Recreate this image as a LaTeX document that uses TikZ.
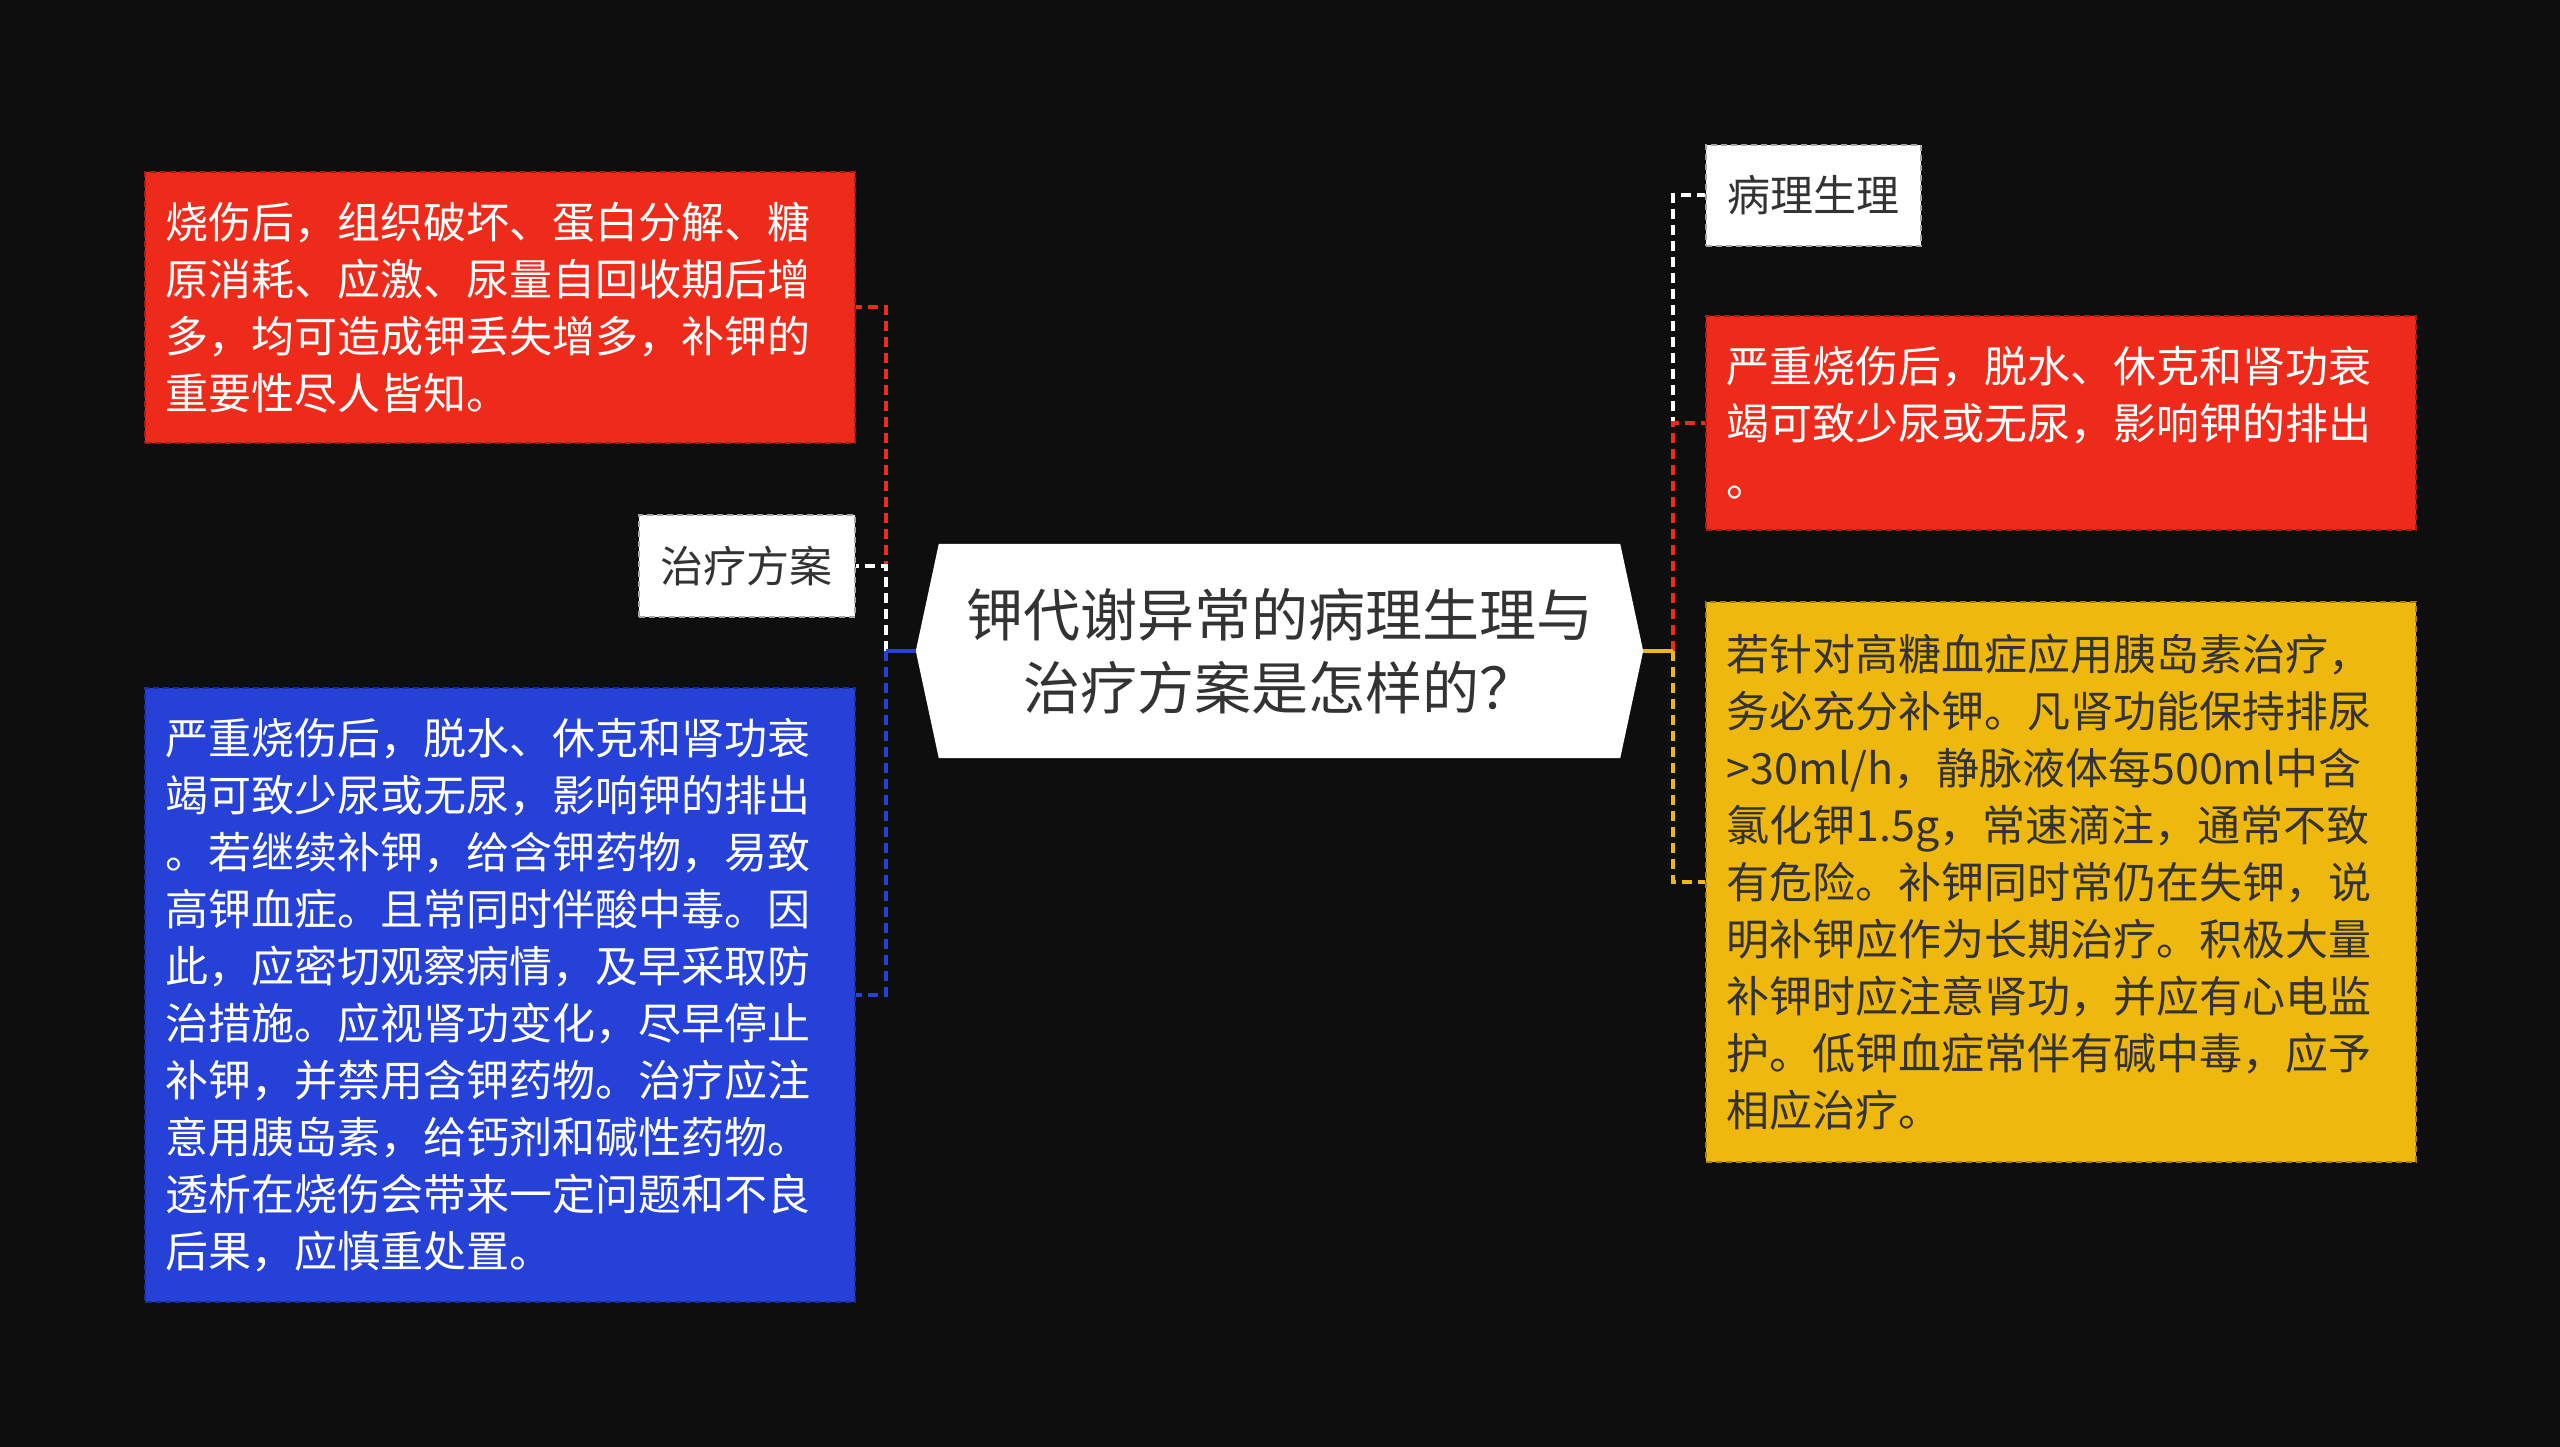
\documentclass[tikz,border=0pt]{standalone}
\usepackage{fontspec}
\setmainfont{Noto Sans CJK SC}
\usetikzlibrary{backgrounds}
\definecolor{bgc}{HTML}{0E0E0E}
\definecolor{redc}{HTML}{EE2A1A}
\definecolor{bluec}{HTML}{2541D8}
\definecolor{yelc}{HTML}{EFB80E}
\definecolor{txtd}{HTML}{333333}
\begin{document}
\begin{tikzpicture}[x=1pt,y=-1pt,
  box/.style={anchor=north west, inner xsep=21pt, inner ysep=0pt, align=left,
    font=\fontsize{43}{57}\selectfont, line width=1.6pt, dash pattern=on 6pt off 4pt},
  bigbox/.style={box, text width=668pt, minimum width=710pt},
  smallbox/.style={box, align=center, minimum width=216pt, minimum height=102pt, inner xsep=0pt},
  conn/.style={line width=4pt, dash pattern=on 10pt off 6pt},
  stub/.style={line width=4pt}
]
\useasboundingbox (0,0) rectangle (2560,1447);

% center node
\node[minimum width=727pt, minimum height=214pt, inner sep=0pt, align=center,
  text=txtd, font=\fontsize{57}{73}\selectfont] (c) at (1279.5,651)
  {钾代谢异常的病理生理与\\治疗方案是怎样的？};

\begin{pgfonlayer}{background}
  \fill[bgc] (0,0) rectangle (2560,1447);
  \fill[white] ([xshift=23pt]c.north west) -- ([xshift=-23pt]c.north east) -- (c.east)
    -- ([xshift=-23pt]c.south east) -- ([xshift=23pt]c.south west) -- (c.west) -- cycle;
\end{pgfonlayer}

% left side
\node[bigbox, fill=redc, draw=redc!70!black, text=white, minimum height=271pt] (lr) at (144,171)
  {烧伤后，组织破坏、蛋白分解、糖\\原消耗、应激、尿量自回收期后增\\多，均可造成钾丢失增多，补钾的\\重要性尽人皆知。};
\node[smallbox, fill=white, draw=black!35, text=txtd] (lt) at (638,514) {治疗方案};
\node[bigbox, fill=bluec, draw=bluec!70!black, text=white, minimum height=614pt] (lb) at (144,687)
  {严重烧伤后，脱水、休克和肾功衰\\竭可致少尿或无尿，影响钾的排出\\。若继续补钾，给含钾药物，易致\\高钾血症。且常同时伴酸中毒。因\\此，应密切观察病情，及早采取防\\治措施。应视肾功变化，尽早停止\\补钾，并禁用含钾药物。治疗应注\\意用胰岛素，给钙剂和碱性药物。\\透析在烧伤会带来一定问题和不良\\后果，应慎重处置。};

% right side
\node[smallbox, fill=white, draw=black!35, text=txtd, minimum width=215pt, minimum height=101pt] (rt) at (1705,144) {病理生理};
\node[bigbox, fill=redc, draw=redc!70!black, text=white, minimum height=214pt] (rr) at (1705,315)
  {严重烧伤后，脱水、休克和肾功衰\\竭可致少尿或无尿，影响钾的排出\\。};
\node[bigbox, fill=yelc, draw=yelc!70!black, text=txtd, minimum height=560pt] (ry) at (1705,601)
  {若针对高糖血症应用胰岛素治疗，\\务必充分补钾。凡肾功能保持排尿\\>30ml/h，静脉液体每500ml中含\\氯化钾1.5g，常速滴注，通常不致\\有危险。补钾同时常仍在失钾，说\\明补钾应作为长期治疗。积极大量\\补钾时应注意肾功，并应有心电监\\护。低钾血症常伴有碱中毒，应予\\相应治疗。};

% connectors
\coordinate (lj) at (886,651);
\coordinate (rj) at (1673,651);
\draw[conn, redc] (lj) |- (lr.east);
\draw[conn, white] (lj) |- (lt.east);
\draw[conn, bluec] (lj) |- (lb.east);
\draw[stub, bluec] (c.west) -- (lj);

\draw[conn, white] (rj) |- (rt.west);
\draw[conn, redc] (rj) |- (rr.west);
\draw[conn, yelc] (rj) |- (ry.west);
\draw[stub, yelc] (c.east) -- (rj);
\end{tikzpicture}
\end{document}
